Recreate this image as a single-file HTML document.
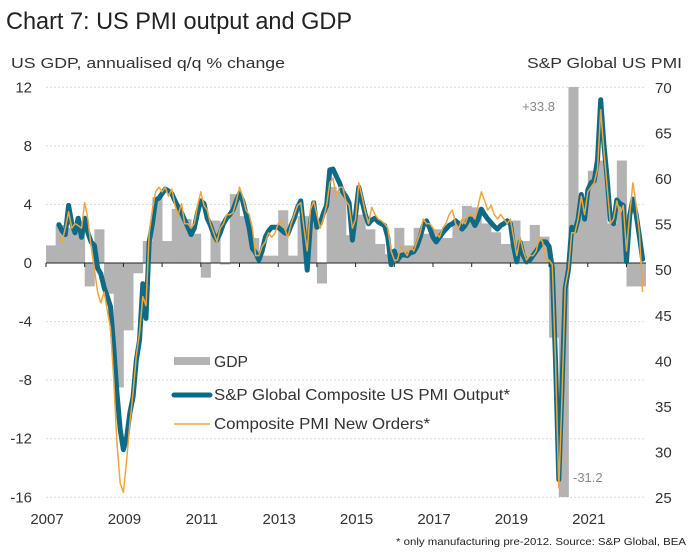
<!DOCTYPE html>
<html><head><meta charset="utf-8"><style>
html,body{margin:0;padding:0;background:#fff;width:690px;height:556px;overflow:hidden;}
svg{display:block;font-family:"Liberation Sans",sans-serif;}
</style></head><body>
<svg id="chart" width="690" height="556" viewBox="0 0 690 556" xmlns="http://www.w3.org/2000/svg">
<text x="6" y="29" font-size="24" fill="#222" textLength="346" lengthAdjust="spacingAndGlyphs">Chart 7: US PMI output and GDP</text>
<text x="11" y="68" font-size="15" fill="#333" textLength="274" lengthAdjust="spacingAndGlyphs">US GDP, annualised q/q % change</text>
<text x="527" y="68" font-size="15" fill="#333" textLength="155" lengthAdjust="spacingAndGlyphs">S&amp;P Global US PMI</text>
<defs><clipPath id="plotclip"><rect x="46" y="87" width="600" height="410"/></clipPath></defs>
<g id="grid"></g>
<g id="bars" clip-path="url(#plotclip)"></g>
<g id="axis"></g>
<g id="lines" clip-path="url(#plotclip)"></g>
<g id="labels"></g>
<text x="555" y="111" font-size="13" fill="#888" text-anchor="end">+33.8</text>
<text x="573" y="482" font-size="13" fill="#888">-31.2</text>
<g>
<rect x="174" y="357" width="36" height="8" fill="#b3b3b3"/>
<text x="214" y="367" font-size="16" fill="#333" textLength="34" lengthAdjust="spacingAndGlyphs">GDP</text>
<line x1="174" y1="395" x2="210" y2="395" stroke="#0e6b87" stroke-width="5" stroke-linecap="round"/>
<text x="214" y="400" font-size="16" fill="#333" textLength="296" lengthAdjust="spacingAndGlyphs">S&amp;P Global Composite US PMI Output*</text>
<line x1="174" y1="424" x2="210" y2="424" stroke="#f0a53c" stroke-width="1.5"/>
<text x="214" y="429" font-size="16" fill="#333" textLength="216" lengthAdjust="spacingAndGlyphs">Composite PMI New Orders*</text>
</g>
<text x="396" y="545" font-size="10.5" fill="#222" textLength="290" lengthAdjust="spacingAndGlyphs">* only manufacturing pre-2012. Source: S&amp;P Global, BEA</text>
</svg>
<script>
const leftTicks=[12,8,4,0,-4,-8,-12,-16];
const rightTicks=[70,65,60,55,50,45,40,35,30,25];
const yearLabels=[2007,2009,2011,2013,2015,2017,2019,2021];
const gdpStartYear=2007;
const gdp=[1.2,2.6,2.4,2.3, -1.6,2.3,-2.1,-8.5, -4.6,-0.7,1.5,4.5, 1.5,3.7,3.0,2.0, -1.0,2.9,-0.1,4.7, 3.2,1.7,0.5,0.5, 3.6,0.5,3.2,3.2, -1.4,5.2,4.9,1.9, 3.3,2.3,1.3,0.6, 2.4,1.2,2.4,2.0, 2.3,1.7,2.9,3.9, 3.8,2.7,2.1,1.3, 2.9,1.5,2.6,1.8, -5.1,-31.2,33.8,4.0, 6.3,7.0,2.7,7.0, -1.6,-1.6];
const pmiStart=2007+4/12; // May 2007
const pmiOutput=[54.9,54.2,53.8,57.0,55.0,54.0,55.6,53.5,
55.6,54.0,53.0,52.6,50.1,49.5,48.0,47.0,45.9,41.5,36.5,32.4,
30.2,31.5,34.2,36.0,40.0,42.2,48.4,44.6,53.0,55.0,57.6,57.8,
58.3,58.8,58.6,58.3,57.5,56.8,56.2,55.4,54.6,53.8,54.5,56.2,
57.5,57.2,55.6,54.8,53.8,53.2,54.0,55.0,55.6,56.0,56.5,57.5,
58.3,57.5,56.1,54.5,52.3,51.8,51.0,52.0,53.5,54.2,54.6,54.6,
54.6,54.3,54.0,53.9,54.8,55.6,56.8,57.5,54.0,49.9,55.0,57.3,
54.6,55.0,56.1,57.0,60.9,61.0,60.2,59.5,58.5,58.0,57.3,53.2,
56.0,59.0,57.5,56.0,55.0,55.4,55.6,55.2,55.0,54.8,53.5,50.5,
52.0,51.0,51.5,51.6,51.5,51.8,51.9,52.5,53.5,54.8,55.3,54.5,
53.5,53.0,53.5,54.0,54.4,54.8,55.0,55.3,55.0,54.4,54.8,55.5,
55.5,54.8,55.5,56.6,56.0,55.5,55.1,54.7,54.4,54.8,55.0,55.3,
55.0,52.5,50.8,53.0,51.5,50.8,51.0,51.5,52.0,52.5,53.0,53.0,
52.5,50.1,40.0,26.9,37.0,47.9,50.0,54.6,54.2,55.5,58.2,55.5,
58.7,59.5,59.7,62.0,68.6,63.7,59.9,55.4,55.0,57.6,57.2,57.0,
50.8,55.9,57.7,56.0,53.6,51.1];
const pmiOrders=[53.5,53.0,54.5,56.3,54.5,55.0,54.8,54.5,
57.3,55.5,52.5,50.0,47.5,46.3,47.5,45.5,43.5,38.0,31.0,26.5,
25.5,29.0,33.0,36.5,40.5,43.0,47.0,46.0,54.0,56.5,58.5,59.0,
58.5,59.0,58.0,58.8,57.0,56.0,57.2,55.0,55.0,54.5,55.0,57.0,
58.5,57.0,56.5,55.0,54.0,53.0,54.5,55.0,56.0,56.0,56.2,57.5,
59.0,58.0,56.5,56.0,54.5,51.5,51.5,52.5,53.0,54.0,53.5,54.0,
55.0,55.3,54.5,53.5,55.0,56.0,57.0,57.3,54.5,52.0,56.5,57.5,
56.0,54.5,55.5,57.0,59.5,60.0,58.0,59.0,59.0,57.5,57.0,54.5,
55.5,59.5,58.0,56.3,55.0,56.8,56.0,55.5,55.3,55.0,54.5,52.0,
51.0,51.0,52.5,52.0,51.5,52.5,52.0,53.0,54.0,55.5,55.0,55.0,
54.5,54.0,53.5,54.5,55.0,56.0,56.5,55.0,54.5,55.5,55.0,56.0,
56.0,55.5,57.0,58.5,57.5,56.5,57.0,56.0,55.5,56.0,55.5,55.0,
55.5,53.5,51.5,53.5,52.0,51.0,51.5,51.5,52.0,53.5,53.0,51.0,
51.0,50.5,40.0,26.0,36.0,48.0,50.0,54.0,54.0,55.5,58.0,56.0,
58.5,59.0,59.5,61.0,67.5,63.0,59.0,55.0,55.5,57.5,56.0,57.0,
52.0,56.0,59.5,57.0,54.0,47.5];

const NS='http://www.w3.org/2000/svg';
const X0=46, PXY=38.7;
function xs(yr){return X0+(yr-2007)*PXY;}
function yl(v){return 263-v*14.643;}
function yr(v){return 87+(70-v)*9.111;}
function mk(tag,attrs,parent){const e=document.createElementNS(NS,tag);for(const k in attrs)e.setAttribute(k,attrs[k]);parent.appendChild(e);return e;}
const grid=document.getElementById('grid'),bars=document.getElementById('bars'),axis=document.getElementById('axis'),lines=document.getElementById('lines'),labels=document.getElementById('labels');
leftTicks.forEach(v=>{
  if(v!==0){const g=mk('line',{x1:46,x2:646,y1:yl(v),y2:yl(v),stroke:'#d9d9d9','stroke-width':1,'stroke-dasharray':'2,2'},grid);
  
  }
  const t=mk('text',{x:32,y:yl(v)+5,'font-size':15,fill:'#333','text-anchor':'end'},labels);
  t.textContent=v;
  
  
});
rightTicks.forEach(v=>{
  const t=mk('text',{x:655,y:yr(v)+6,'font-size':15,fill:'#333'},labels);
  t.textContent=v;
  
  
});
gdp.forEach((v,i)=>{
  const x=xs(gdpStartYear+i/4);
  const y0=yl(0),y1=yl(v);
  const r=mk('rect',{x:x,y:Math.min(y0,y1),width:PXY/4+0.4,height:Math.abs(y1-y0),fill:'#b3b3b3'},bars);
  
  
});
const ax=mk('line',{x1:46,x2:646,y1:yl(0),y2:yl(0),stroke:'#222','stroke-width':1},axis);


for(let y=2007;y<=2022;y++){
  const tk=mk('line',{x1:xs(y),x2:xs(y),y1:yl(0),y2:yl(0)+4,stroke:'#222','stroke-width':1},axis);
  
  
}
yearLabels.forEach(y=>{
  const t=mk('text',{x:xs(y)+1,y:524,'font-size':15,fill:'#333','text-anchor':'middle'},labels);
  t.textContent=y;
  
  
});
function path(arr){return arr.map((v,i)=>(i?'L':'M')+xs(pmiStart+i/12).toFixed(1)+','+yr(v).toFixed(1)).join(' ');}
const p1=mk('path',{d:path(pmiOutput),fill:'none',stroke:'#0e6b87','stroke-width':5,'stroke-linejoin':'round','stroke-linecap':'round'},lines);


const p2=mk('path',{d:path(pmiOrders),fill:'none',stroke:'#f0a53c','stroke-width':1.5,'stroke-linejoin':'round'},lines);


</script>
</body></html>
